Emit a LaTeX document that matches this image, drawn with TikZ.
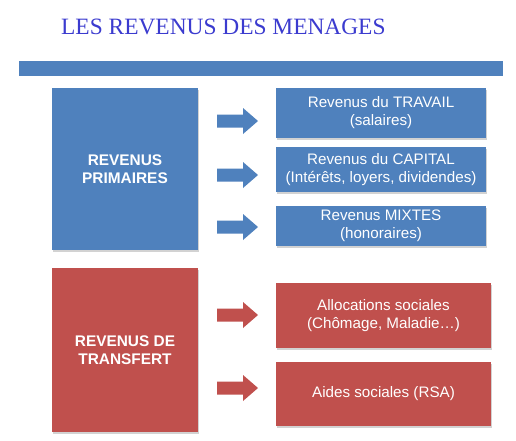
\documentclass[tikz,border=0pt]{standalone}
\usepackage{fontspec}
\setmainfont{Liberation Serif}
\setsansfont{Liberation Sans}
\usetikzlibrary{shadows}
\definecolor{bblue}{HTML}{4F81BD}
\definecolor{rred}{HTML}{C0504D}
\definecolor{ttl}{HTML}{3B3BCF}
\begin{document}
\begin{tikzpicture}[x=1pt,y=-1pt,
  box/.style={draw=none,inner sep=0pt,align=center,text=white,font=\sffamily\fontsize{15.2}{18}\selectfont,
    drop shadow={shadow xshift=1pt,shadow yshift=-1.5pt,opacity=0.35}},
  bigbox/.style={box,font=\sffamily\bfseries\fontsize{15.4}{18}\selectfont}
]
\useasboundingbox (0,0) rectangle (516,440);
\fill[white] (0,0) rectangle (516,440);
% title
\node[anchor=base west,inner sep=0pt,text=ttl,font=\fontsize{23.4}{26}\selectfont] (title) at (61,34) {LES REVENUS DES MENAGES};
% bar
\fill[bblue] (19,61) rectangle (503,76);
% primary
\node[bigbox,fill=bblue,minimum width=146,minimum height=162] (prim) at (125,169) {REVENUS\\PRIMAIRES};
\node[box,fill=bblue,minimum width=210,minimum height=50] (trav) at (381,113) {Revenus du TRAVAIL\\(salaires)};
\node[box,fill=bblue,minimum width=210,minimum height=45] (capi) at (381,169.5) {Revenus du CAPITAL\\(Intérêts, loyers, dividendes)};
\node[box,fill=bblue,minimum width=210,minimum height=40] (mixt) at (381,226) {Revenus MIXTES\\(honoraires)};
% transfer
\node[bigbox,fill=rred,minimum width=146,minimum height=164] (trans) at (125,350) {REVENUS DE\\TRANSFERT};
\node[box,fill=rred,minimum width=215,minimum height=65] (alloc) at (383.5,315.5) {Allocations sociales\\(Chômage, Maladie…)};
\node[box,fill=rred,minimum width=215,minimum height=64] (aides) at (383.5,394) {Aides sociales (RSA)};
% arrows
\foreach \yc/\col in {121/bblue,175/bblue,227/bblue,315/rred,388/rred}{
  \fill[\col] (217,\yc-6.5) -- (243,\yc-6.5) -- (243,\yc-13) -- (258,\yc) -- (243,\yc+13) -- (243,\yc+6.5) -- (217,\yc+6.5) -- cycle;
}
\end{tikzpicture}
\end{document}
